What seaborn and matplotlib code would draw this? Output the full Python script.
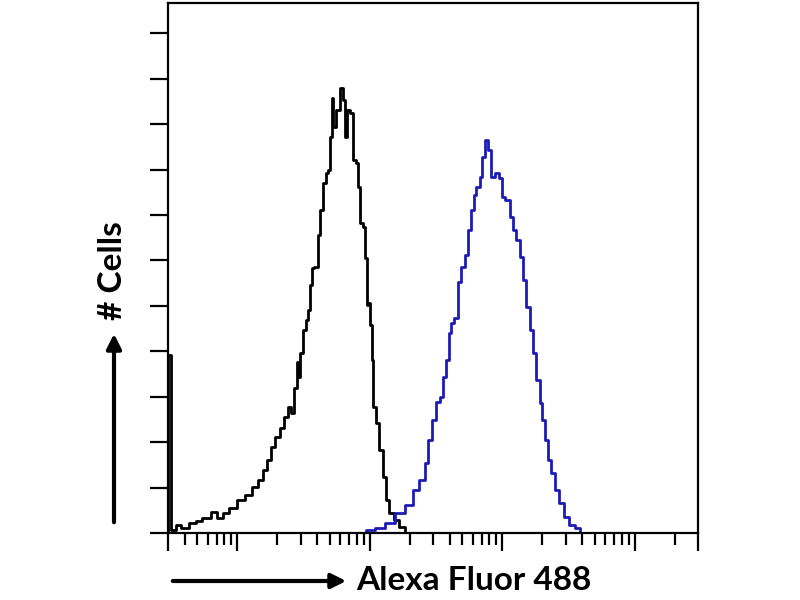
import numpy as np
import pandas as pd
import seaborn as sns
import matplotlib.pyplot as plt
from matplotlib.ticker import FixedLocator, LogLocator, NullFormatter

# log10 of fluorescence intensity and cell counts (in tick units)
isotype_log = [0.47, 0.483, 0.521, 0.559, 0.597, 0.672, 0.710, 0.763, 0.839, 0.862,
               0.915, 0.960, 1.028, 1.089, 1.126, 1.179, 1.202, 1.240, 1.262, 1.300,
               1.338, 1.368, 1.391, 1.414, 1.444, 1.452, 1.467, 1.482, 1.505, 1.527,
               1.542, 1.557, 1.565, 1.595, 1.618, 1.633, 1.656, 1.679, 1.694, 1.709,
               1.716, 1.731, 1.754, 1.792, 1.807, 1.822, 1.830, 1.868, 1.883, 1.905,
               1.921, 1.936, 1.958, 1.974, 1.981, 1.996, 2.011, 2.019, 2.034, 2.057,
               2.087, 2.110, 2.132, 2.163, 2.200, 2.246, 2.284]
isotype_count = [0.0, 3.92, 0.07, 0.18, 0.11, 0.22, 0.26, 0.33, 0.46, 0.33,
                 0.44, 0.55, 0.73, 0.84, 1.01, 1.17, 1.39, 1.61, 1.89, 2.11,
                 2.31, 2.56, 2.78, 2.64, 3.19, 3.77, 3.44, 3.96, 4.47, 4.69,
                 4.91, 5.46, 5.84, 5.86, 6.56, 7.11, 7.71, 7.93, 8.00, 8.72,
                 9.58, 8.94, 9.32, 9.80, 9.54, 8.72, 9.32, 9.25, 8.22, 8.15,
                 7.62, 6.83, 6.74, 6.06, 5.02, 5.07, 4.58, 3.81, 2.78, 2.42,
                 1.83, 1.23, 0.73, 0.44, 0.29, 0.13, 0.0]

stained_log = [1.943, 1.996, 2.072, 2.148, 2.223, 2.299, 2.352, 2.390, 2.435, 2.450,
               2.488, 2.511, 2.541, 2.564, 2.587, 2.602, 2.624, 2.654, 2.677, 2.700,
               2.730, 2.753, 2.776, 2.791, 2.813, 2.843, 2.851, 2.881, 2.904, 2.927,
               2.957, 2.995, 3.002, 3.040, 3.070, 3.093, 3.116, 3.146, 3.168, 3.191,
               3.221, 3.244, 3.267, 3.297, 3.305, 3.335, 3.358, 3.381, 3.411, 3.449,
               3.486, 3.524, 3.570, 3.607]
stained_count = [0.0, 0.07, 0.11, 0.22, 0.44, 0.62, 0.95, 1.17, 1.54, 2.05,
                 2.49, 2.89, 3.00, 3.44, 3.81, 4.41, 4.63, 4.74, 5.53, 5.86,
                 6.12, 6.67, 7.11, 7.44, 7.62, 7.84, 8.28, 8.66, 8.44, 7.84,
                 7.93, 7.82, 7.40, 7.33, 6.96, 6.67, 6.45, 6.08, 5.57, 4.98,
                 4.47, 3.96, 3.37, 2.86, 2.49, 2.05, 1.61, 1.32, 0.95, 0.66,
                 0.35, 0.18, 0.11, 0.0]

x_label = "Alexa Fluor 488"
y_label = "# Cells"

iso = pd.DataFrame({"fl": 10 ** np.array(isotype_log), "cells": isotype_count})
stn = pd.DataFrame({"fl": 10 ** np.array(stained_log), "cells": stained_count})

sns.set_theme(style="ticks")
plt.rcParams["font.family"] = ["Lato", "DejaVu Sans"]
plt.rcParams["text.color"] = "black"

fig = plt.figure(figsize=(8, 6), dpi=100)
ax = fig.add_axes([0.21, 0.1117, 0.6625, 0.8833])

sns.lineplot(data=iso, x="fl", y="cells", ax=ax, color="black", lw=2,
             estimator=None, sort=False, drawstyle="steps-mid")
sns.lineplot(data=stn, x="fl", y="cells", ax=ax, color="#1c1cb4", lw=2,
             estimator=None, sort=False, drawstyle="steps-mid")

ax.set_xscale("log")
ax.set_xlim(3, 30000)
ax.set_ylim(0, 11.67)
ax.xaxis.set_major_locator(FixedLocator([3, 10, 100, 1000, 10000, 30000]))
ax.xaxis.set_minor_locator(LogLocator(base=10, subs=np.arange(2, 10)))
ax.xaxis.set_major_formatter(NullFormatter())
ax.xaxis.set_minor_formatter(NullFormatter())
ax.set_yticks(np.arange(0, 12))
ax.set_yticklabels([])
ax.tick_params(axis="both", which="major", direction="out", length=13, width=1.6, color="black")
ax.tick_params(axis="x", which="minor", direction="out", length=8.5, width=1.6, color="black")
ax.tick_params(top=False, right=False, which="both")
for sp in ax.spines.values():
    sp.set_visible(True)
    sp.set_linewidth(1.6)
    sp.set_color("black")
ax.set_xlabel("")
ax.set_ylabel("")

# axis captions with arrows
fig.text(356 / 800, 19 / 600, x_label, fontsize=24, fontweight="bold", color="black",
         ha="left", va="center")
fig.text(113 / 800, 329 / 600, y_label, fontsize=24, fontweight="bold", color="black",
         rotation=90, ha="center", va="center")
ax.annotate("", xy=(349, 19), xytext=(170, 19), xycoords="figure pixels",
            textcoords="figure pixels",
            arrowprops=dict(arrowstyle="-|>", lw=3, color="black", mutation_scale=22))
ax.annotate("", xy=(114, 269), xytext=(114, 75), xycoords="figure pixels",
            textcoords="figure pixels",
            arrowprops=dict(arrowstyle="-|>", lw=3, color="black", mutation_scale=22))

fig.savefig("out.png", dpi=100)
